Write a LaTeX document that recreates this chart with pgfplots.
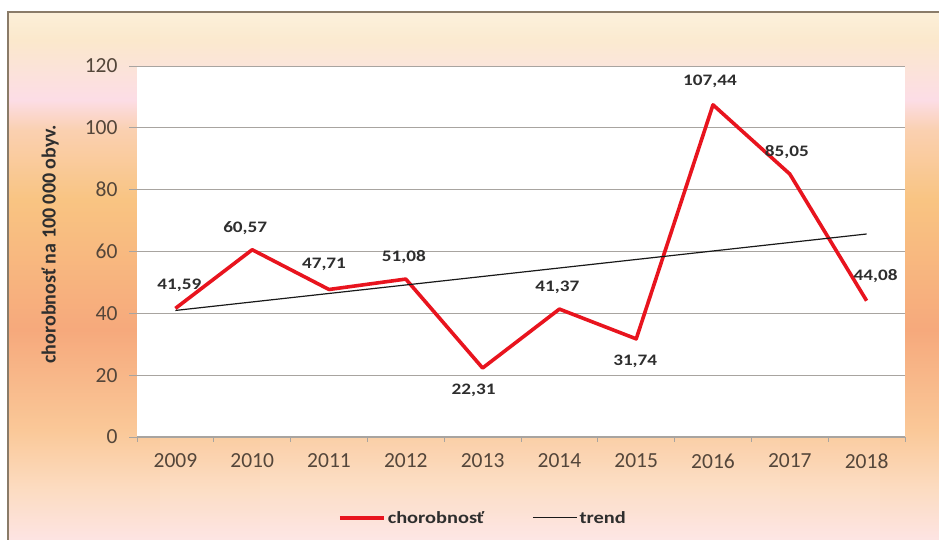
\documentclass[border=0pt]{standalone}
\usepackage{pgfplots}
\pgfplotsset{compat=1.18}
\usepackage{pgfplotstable}
\usepackage{fontspec}
\setmainfont{Carlito}

\definecolor{redline}{HTML}{E8141E}
\definecolor{tickcol}{HTML}{54463A}
\definecolor{labcol}{HTML}{2E2E2E}
\definecolor{gridcol}{HTML}{A8A4A0}
\definecolor{bordercol}{HTML}{8A7B68}
\definecolor{c0}{HTML}{FDE4E3}
\definecolor{c1}{HTML}{FCDCC2}
\definecolor{c2}{HTML}{FAC898}
\definecolor{c3}{HTML}{F6A97C}
\definecolor{c4}{HTML}{F9C482}
\definecolor{c5}{HTML}{FAD0B0}
\definecolor{c6}{HTML}{FCDDE6}
\definecolor{c7}{HTML}{FBE8CC}
\definecolor{c8}{HTML}{FCEFD8}

\pgfdeclareverticalshading{bgshade}{100bp}{color(0bp)=(c0); color(25bp)=(c0); color(29.7bp)=(c1); color(35.4bp)=(c2); color(44.9bp)=(c3); color(57.2bp)=(c4); color(63.8bp)=(c5); color(66.7bp)=(c6); color(72.3bp)=(c7); color(75bp)=(c8); color(100bp)=(c8)}

\pgfplotstableread{
x y dx dy
0 41.59 4 23
1 60.57 -7 22
2 47.71 -5 25
3 51.08 -2 22
4 22.31 -9 -22
5 41.37 -2 22
6 31.74 -1 -22
7 107.44 -3 23
8 85.05 -3 22
9 44.08 9 25
}\datatable

\begin{document}
\begin{tikzpicture}
\useasboundingbox (0pt,0pt) rectangle (939pt,540pt);
\fill[white] (0pt,0pt) rectangle (939pt,540pt);
\shade[shading=bgshade] (8pt,0pt) rectangle (939pt,528pt);
\foreach \l/\r in {160/880,260/780}{
  \fill[white, opacity=0.06] (\l pt,0pt) rectangle (\r pt,528pt);
}
\draw[bordercol, line width=2pt] (8pt,0pt) -- (8pt,528pt) -- (939pt,528pt);

\begin{axis}[
  at={(137pt,103pt)}, anchor=south west,
  scale only axis, width=768pt, height=371pt,
  xmin=-0.5, xmax=9.5, ymin=0, ymax=120,
  xtick={0,1,2,3,4,5,6,7,8,9},
  xticklabels={2009,2010,2011,2012,2013,2014,2015,2016,2017,2018},
  major x tick style={draw=none},
  minor xtick={-0.5,0.5,1.5,2.5,3.5,4.5,5.5,6.5,7.5,8.5,9.5},
  minor x tick style={draw=gridcol, line width=1pt},
  ytick={0,20,40,60,80,100,120},
  ytick style={draw=gridcol, line width=0.8pt},
  ymajorgrids, grid style={draw=gridcol, line width=0.9pt},
  axis x line*=bottom, axis y line*=left,
  x axis line style={-, draw=gridcol, line width=1pt},
  y axis line style={-, draw=none},
  tick align=outside,
  major tick length=8pt, minor tick length=5pt,
  axis background/.style={fill=white},
  /pgf/number format/assume math mode=true,
  tick label style={font=\fontsize{21.5}{24}\selectfont, text=tickcol},
  xticklabel style={yshift=-5pt},
  yticklabel style={xshift=-8pt},
  ylabel={chorobnosť na 100 000 obyv.},
  ylabel style={font=\fontsize{20}{23}\selectfont\bfseries, text=labcol, at={(axis description cs:-0.113,0.52)}, anchor=center},
  legend style={at={(axis description cs:0.4505,-0.218)}, anchor=center, draw=none, fill=none,
    legend columns=2, font=\fontsize{17}{20}\selectfont\bfseries, text=labcol,
    /tikz/every even column/.append style={column sep=46pt}},
  legend image code/.code={\draw[#1] (0pt,0pt) -- (44pt,0pt);},
]
\addplot[color=redline, line width=3.6pt, line join=round, mark=none,
  visualization depends on={\thisrow{dx} \as \dx},
  visualization depends on={\thisrow{dy} \as \dy},
  nodes near coords={\scalebox{1.2}[1]{\pgfmathprintnumber[fixed,fixed zerofill,precision=2,use comma,assume math mode=true]{\pgfplotspointmeta}}},
  point meta=explicit, 
  every node near coord/.append style={anchor=center, xshift=\dx pt, yshift=\dy pt, font=\fontsize{16}{18}\selectfont\bfseries, text=labcol},
] table[x=x, y=y, meta=y] {\datatable};
\addlegendentry{\scalebox{1.2}[1]{chorobnosť}}
\addplot[color=black!90, line width=1.2pt, mark=none] coordinates {(0,40.93) (9,65.66)};
\addlegendentry{\scalebox{1.2}[1]{trend}}
\end{axis}
\end{tikzpicture}
\end{document}
